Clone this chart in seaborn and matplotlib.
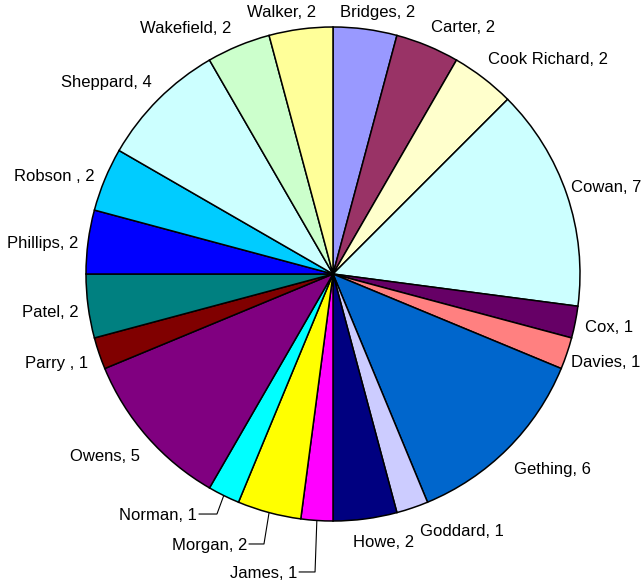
import numpy as np
import matplotlib
matplotlib.use("Agg")
import matplotlib.pyplot as plt
import seaborn as sns

# ---- data ----
names = ["Bridges", "Carter", "Cook Richard", "Cowan", "Cox", "Davies", "Gething",
         "Goddard", "Howe", "James", "Morgan", "Norman", "Owens", "Parry ", "Patel",
         "Phillips", "Robson ", "Sheppard", "Wakefield", "Walker"]
counts = [2, 2, 2, 7, 1, 1, 6, 1, 2, 1, 2, 1, 5, 1, 2, 2, 2, 4, 2, 2]
hex_colors = ["#9999FF", "#993366", "#FFFFCC", "#CCFFFF", "#660066", "#FF8080",
              "#0066CC", "#CCCCFF", "#000080", "#FF00FF", "#FFFF00", "#00FFFF",
              "#800080", "#800000", "#008080", "#0000FF", "#00CCFF", "#CCFFFF",
              "#CCFFCC", "#FFFF99"]

# ---- style / layout nudges (pixels, x right / y down, relative to wedge edge midpoint) ----
label_nudge = {
    "Bridges": ("left", -25, -12.4), "Carter": ("left", 3.5, -13.8),
    "Cook Richard": ("left", 4.6, -14), "Cowan": ("left", 4.0, -2.6),
    "Cox": ("left", 9.7, 9.8), "Davies": ("left", 4.5, 13.6),
    "Gething": ("left", 6.3, 25.3), "Goddard": ("left", 7.6, 28),
    "Howe": ("left", -12.5, 28.4),
    "Walker": ("right", 15.2, -12.4), "Wakefield": ("right", -7.5, -12.8),
    "Sheppard": ("right", -6.3, -12.3), "Robson ": ("right", -9.8, 1.2),
    "Phillips": ("right", -9.8, 6.5), "Patel": ("right", -9, 10.8),
    "Parry ": ("right", -11, 14.6), "Owens": ("right", -7.3, 24),
}
# leader-line labels: (elbow dx, elbow dy, text-end dx) relative to edge point
leader_nudge = {
    "Norman": (-6.8, 18.5, -26.8),
    "Morgan": (-5.1, 31.4, -22.1),
    "James": (-1.8, 51.5, -19.8),
}

sns.set_style("white")
plt.rcParams["font.family"] = ["Liberation Sans", "DejaVu Sans"]

W, H, DPI = 643, 585, 100
R_PX = 247.0
CX, CY = 333.0, 274.0

fig = plt.figure(figsize=(W / DPI, H / DPI), dpi=DPI)
ax = fig.add_axes([0, 0, 1, 1])

palette = sns.color_palette(hex_colors)
wedges, _ = ax.pie(counts, colors=palette, startangle=90, counterclock=False,
                   radius=1.0, wedgeprops=dict(edgecolor="black", linewidth=1.1))

ax.set_xlim(-CX / R_PX, (W - CX) / R_PX)
ax.set_ylim(-(H - CY) / R_PX, CY / R_PX)
ax.set_aspect("equal", adjustable="datalim")
ax.axis("off")

FS = 12
s = 1.0 / R_PX
for w, name, c in zip(wedges, names, counts):
    mid = np.deg2rad((w.theta1 + w.theta2) / 2.0)
    ex, ey = np.cos(mid), np.sin(mid)
    text = f"{name}, {c}"
    if name in label_nudge:
        ha, dx, dy = label_nudge[name]
        ax.text(ex + dx * s, ey - dy * s, text, ha=ha, va="baseline",
                fontsize=FS, color="black")
    else:
        edx, edy, tdx = leader_nudge[name]
        bx, by = ex + edx * s, ey - edy * s
        ax.plot([ex, bx, ex + (tdx + 2) * s], [ey, by, by], color="black", lw=0.8)
        ax.text(ex + tdx * s, by - 6 * s, text, ha="right", va="baseline",
                fontsize=FS, color="black")

fig.savefig("out.png", dpi=DPI)
